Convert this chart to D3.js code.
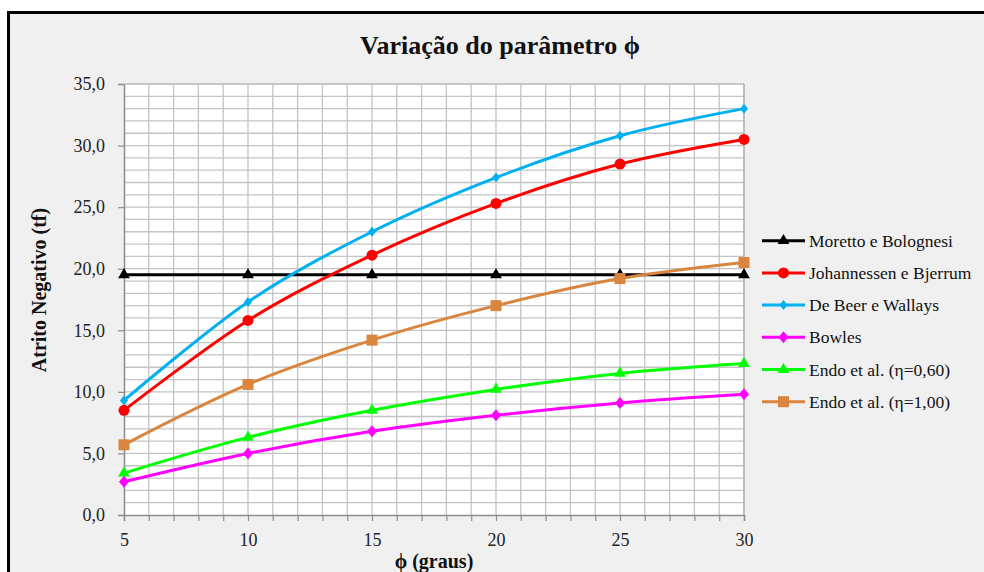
<!DOCTYPE html>
<html><head><meta charset="utf-8">
<script src="https://cdn.jsdelivr.net/npm/d3@7"></script>
<style>
html,body{margin:0;padding:0;background:#fff;}
svg{display:block;}
</style></head>
<body>
<svg id="c" width="984" height="572" font-family="'Liberation Serif', 'Times New Roman', serif"></svg>
<script>
const FONT = "'Liberation Serif', 'Times New Roman', serif";
const phi = [5, 10, 15, 20, 25, 30];
const xTicks = [5, 10, 15, 20, 25, 30];
const yTicks = [0, 5, 10, 15, 20, 25, 30, 35];
const moretto = [19.5, 19.5, 19.5, 19.5, 19.5, 19.5];
const johannessen = [8.5, 15.8, 21.1, 25.3, 28.5, 30.5];
const deBeer = [9.3, 17.3, 23.0, 27.4, 30.8, 33.0];
const bowles = [2.7, 5.0, 6.8, 8.1, 9.1, 9.8];
const endo060 = [3.4, 6.3, 8.5, 10.2, 11.5, 12.3];
const endo100 = [5.7, 10.6, 14.2, 17.0, 19.2, 20.5];

const seriesNames = ["Moretto e Bolognesi","Johannessen e Bjerrum","De Beer e Wallays","Bowles","Endo et al. (\u03b7=0,60)","Endo et al. (\u03b7=1,00)"];
const seriesValues = [moretto, johannessen, deBeer, bowles, endo060, endo100];
const seriesColors = ["#000000","#ff0000","#00b0f0","#ff00ff","#00ff00","#d9853e"];
const seriesMarkers = ["triangle","circle","smalldiamond","diamond","triangle","square"];

const svg = d3.select("#c");
svg.append("rect").attr("x",9).attr("y",13).attr("width",990).attr("height",570).attr("fill","#f0f0f0");
svg.append("line").attr("x1",8).attr("x2",984).attr("y1",12.5).attr("y2",12.5).attr("stroke","#000").attr("stroke-width",3);
svg.append("line").attr("x1",8.5).attr("x2",8.5).attr("y1",11).attr("y2",572).attr("stroke","#000").attr("stroke-width",3);

const L=124, R=744, T=84, B=515;
const x = d3.scaleLinear().domain([5,30]).range([L,R]);
const y = d3.scaleLinear().domain([0,35]).range([B,T]);

svg.append("rect").attr("x",L).attr("y",T).attr("width",R-L).attr("height",B-T).attr("fill","#fff");

const g = svg.append("g");
g.selectAll(".vg").data(d3.range(6,31)).join("line")
  .attr("x1",d=>x(d)).attr("x2",d=>x(d)).attr("y1",T).attr("y2",B)
  .attr("stroke","#c4c4c4").attr("stroke-width",1.3);
g.selectAll(".hg").data(d3.range(1,36)).join("line")
  .attr("x1",L).attr("x2",R).attr("y1",d=>y(d)).attr("y2",d=>y(d))
  .attr("stroke","#c4c4c4").attr("stroke-width",1.3);

const xAxis = d3.axisBottom(x).tickValues(d3.range(5,31)).tickSize(6)
  .tickFormat(d=> xTicks.includes(d) ? String(d) : "");
const gx = svg.append("g").attr("transform",`translate(0,${B})`).call(xAxis).attr("font-family",FONT).attr("font-size",18);
gx.select(".domain").attr("stroke","#8c8c8c").attr("stroke-width",1.5);
gx.selectAll(".tick line").attr("stroke","#8c8c8c").attr("stroke-width",1.2);
gx.selectAll(".tick text").attr("fill","#222").attr("dy","1.2em");

const yAxis = d3.axisLeft(y).tickValues(yTicks).tickSize(6)
  .tickFormat(d=> d.toFixed(1).replace(".",","));
const gy = svg.append("g").attr("transform",`translate(${L},0)`).call(yAxis).attr("font-family",FONT).attr("font-size",18);
gy.select(".domain").attr("stroke","#8c8c8c").attr("stroke-width",1.5);
gy.selectAll(".tick line").attr("stroke","#8c8c8c").attr("stroke-width",1.2);
gy.selectAll(".tick text").attr("fill","#222").attr("dx","-0.55em");

svg.append("line").attr("x1",R).attr("x2",R).attr("y1",T).attr("y2",B).attr("stroke","#b0b0b0").attr("stroke-width",1.3);
svg.append("line").attr("x1",L).attr("x2",R).attr("y1",T).attr("y2",T).attr("stroke","#c4c4c4").attr("stroke-width",1.3);

function marker(sel, type, color, cx, cy){
  if(type==="triangle"){
    sel.append("path").attr("d",d3.symbol(d3.symbolTriangle,60)()).attr("transform",`translate(${cx},${cy})`).attr("fill",color);
  } else if(type==="circle"){
    sel.append("circle").attr("cx",cx).attr("cy",cy).attr("r",5.5).attr("fill",color);
  } else if(type==="square"){
    sel.append("rect").attr("x",cx-5.5).attr("y",cy-5.5).attr("width",11).attr("height",11).attr("fill",color);
  } else if(type==="diamond"){
    sel.append("path").attr("d",`M0,-6L5,0L0,6L-5,0Z`).attr("transform",`translate(${cx},${cy})`).attr("fill",color);
  } else if(type==="smalldiamond"){
    sel.append("path").attr("d",`M0,-5L4,0L0,5L-4,0Z`).attr("transform",`translate(${cx},${cy})`).attr("fill",color);
  }
}

const line = d3.line().x(d=>x(d[0])).y(d=>y(d[1])).curve(d3.curveCardinal.tension(0));
seriesValues.forEach((vals,i)=>{
  const pts = phi.map((p,j)=>[p,vals[j]]);
  const sg = svg.append("g");
  sg.append("path").attr("d",line(pts)).attr("fill","none").attr("stroke",seriesColors[i]).attr("stroke-width",3);
  pts.forEach(p=>marker(sg, seriesMarkers[i], seriesColors[i], x(p[0]), y(p[1])));
});

svg.append("text").attr("x",500).attr("y",54).attr("text-anchor","middle").attr("font-family",FONT)
  .attr("font-size",26).attr("font-weight","bold").attr("fill","#111").text("Variação do parâmetro \u03d5");
svg.append("text").attr("x",434).attr("y",568).attr("text-anchor","middle").attr("font-family",FONT)
  .attr("font-size",20).attr("font-weight","bold").attr("fill","#111").text("\u03d5 (graus)");
svg.append("text").attr("transform",`translate(46,290) rotate(-90)`).attr("text-anchor","middle").attr("font-family",FONT)
  .attr("font-size",20).attr("font-weight","bold").attr("fill","#111").text("Atrito Negativo (tf)");

const lg = svg.append("g");
seriesNames.forEach((n,i)=>{
  const ly = 240.7 + i*32.2;
  lg.append("line").attr("x1",762).attr("x2",805).attr("y1",ly).attr("y2",ly).attr("stroke",seriesColors[i]).attr("stroke-width",3);
  marker(lg, seriesMarkers[i], seriesColors[i], 783.5, ly);
  lg.append("text").attr("x",809).attr("y",ly).attr("dy","0.35em").attr("font-family",FONT).attr("font-size",17.5).attr("fill","#111").text(n);
});
</script>
</body></html>
